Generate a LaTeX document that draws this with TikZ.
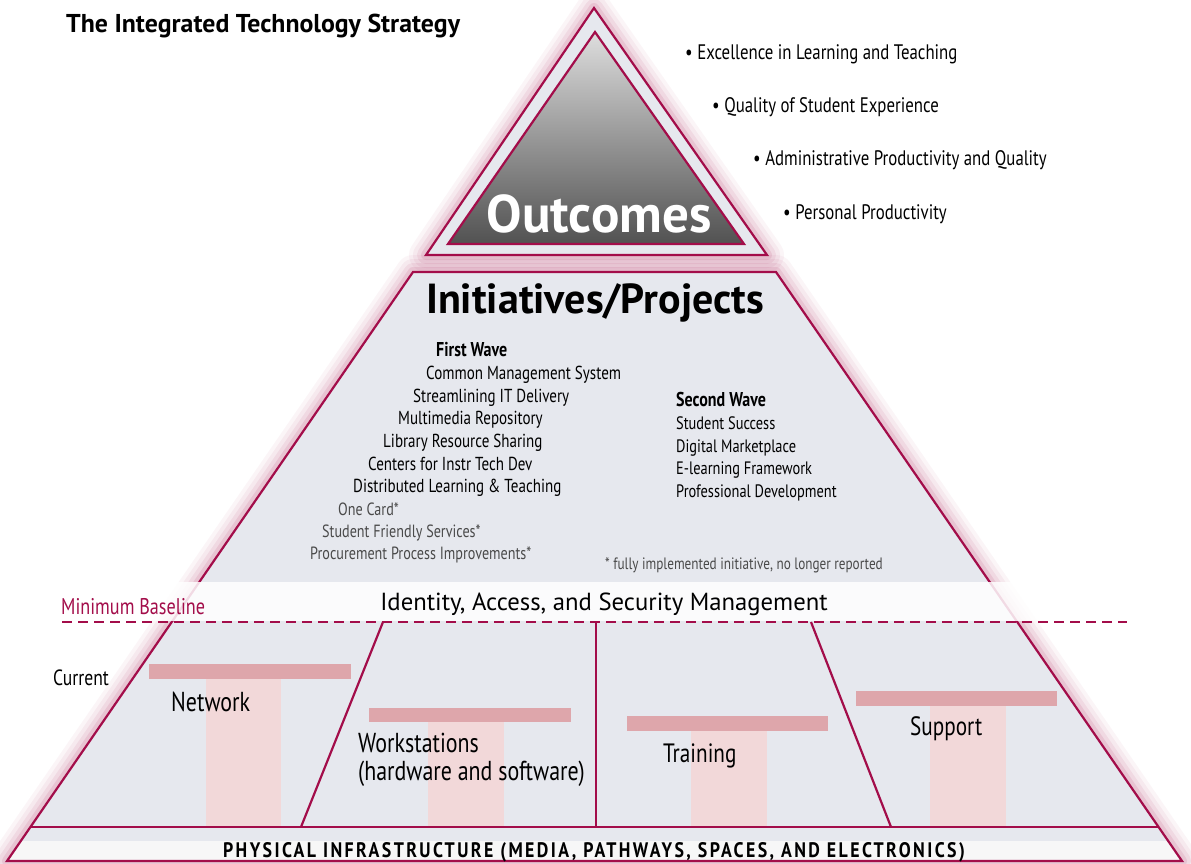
\documentclass[tikz,border=0pt]{standalone}
\usepackage{fontspec}
\setmainfont{PT Sans}
\newfontfamily\cond[FakeStretch=0.80]{PT Sans}
\newfontfamily\physfont[FakeStretch=0.85,LetterSpace=11.5]{PT Sans}
\definecolor{crim}{HTML}{A30D4A}
\definecolor{pgray}{HTML}{E6E8EE}
\definecolor{barpink}{HTML}{DEA6AB}
\definecolor{pilpink}{HTML}{F2D8D9}
\definecolor{txtgray}{HTML}{4A4A4A}
\tikzset{
  edge/.style={draw=crim, line width=2.2pt, line join=miter},
  body/.style={font=\cond\fontsize{18.8}{20}\selectfont, anchor=base west, inner sep=0pt, text=black},
  body2/.style={font=\cond\fontsize{18}{20}\selectfont, anchor=base west, inner sep=0pt, text=black},
  wavehead/.style={font=\cond\bfseries\fontsize{20}{22}\selectfont, anchor=base west, inner sep=0pt, text=black},
  done/.style={font=\cond\fontsize{17.7}{20}\selectfont, anchor=base west, inner sep=0pt, text=txtgray},
  pillarlbl/.style={font=\cond\fontsize{27.4}{30}\selectfont, anchor=base west, inner sep=0pt, text=black},
  bullet/.style={font=\cond\fontsize{21}{24}\selectfont, anchor=base west, inner sep=0pt, text=black},
  bar/.style={fill=barpink, draw=none},
  pillar/.style={fill=pilpink, draw=none},
}
\begin{document}
\begin{tikzpicture}[x=1pt,y=-1pt]
\useasboundingbox (0,0) rectangle (1191,863);
\fill[white] (0,0) rectangle (1191,863);

% coordinates
\coordinate (oA) at (594,8);
\coordinate (oL) at (426,255);
\coordinate (oR) at (767,255);
\coordinate (iA) at (595,32);
\coordinate (iL) at (448,244);
\coordinate (iR) at (744,244);
\coordinate (TL) at (413,272);
\coordinate (TR) at (776,272);
\coordinate (BR) at (1182,861);
\coordinate (BL) at (7,861);
\coordinate (ML) at (30.4,827);
\coordinate (MR) at (1158.6,827);
\coordinate (SL) at (20.8,841);
\coordinate (SR) at (1168.2,841);

% glows
\foreach \w/\o in {34/0.04,26/0.05,18/0.07,10/0.10}{
  \draw[crim, line width=\w pt, opacity=\o, line join=round] (oA) -- (oL) -- (oR) -- cycle;
  \draw[crim, line width=\w pt, opacity=\o, line join=round] (TL) -- (TR) -- (BR) -- (BL) -- cycle;
}

% top triangle
\fill[pgray] (oA) -- (oL) -- (oR) -- cycle;
\draw[edge] (oA) -- (oL) -- (oR) -- cycle;
\shade[top color=black!13, bottom color=black!68] (iA) -- (iL) -- (iR) -- cycle;
\draw[edge] (iA) -- (iL) -- (iR) -- cycle;
\node[font=\fontsize{53}{58}\selectfont\bfseries, text=white, anchor=base, inner sep=0pt] (outcomes) at (599,232) {Outcomes};

% main trapezoid
\fill[pgray] (TL) -- (TR) -- (BR) -- (BL) -- cycle;
\fill[white!97!black] (SL) -- (SR) -- (BR) -- (BL) -- cycle;

% pillars
\fill[pillar] (206,679) rectangle (281,827);
\fill[bar] (149,664) rectangle (351,679);
\fill[pillar] (428,722) rectangle (504,827);
\fill[bar] (369,708) rectangle (571,722);
\fill[pillar] (691,731) rectangle (767,827);
\fill[bar] (627,716) rectangle (828,731);
\fill[pillar] (930,706) rectangle (1006,827);
\fill[bar] (856,691) rectangle (1057,706);

% dividers
\coordinate (d1t) at (383,622); \coordinate (d1b) at (301,827);
\coordinate (d2t) at (596,622); \coordinate (d2b) at (596,827);
\coordinate (d3t) at (811,622); \coordinate (d3b) at (891,827);
\draw[edge] (d1t) -- (d1b);
\draw[edge] (d2t) -- (d2b);
\draw[edge] (d3t) -- (d3b);
\draw[edge] (ML) -- (MR);
\draw[edge] (TL) -- (TR) -- (BR) -- (BL) -- cycle;

% white band
\fill[white, opacity=0.85] (0,582) rectangle (1191,621);
\coordinate (dashL) at (62,622);
\coordinate (dashR) at (1127,622);
\draw[crim, line width=2.2pt, dash pattern=on 10pt off 6pt] (dashL) -- (dashR);

% texts
\node[font=\fontsize{25.8}{28}\selectfont\bfseries, anchor=base west, inner sep=0pt] (title) at (66,32) {The Integrated Technology Strategy};
\node[bullet] (b1) at (685,59) {\textbullet\ Excellence in Learning and Teaching};
\node[bullet] (b2) at (712,112) {\textbullet\ Quality of Student Experience};
\node[bullet] (b3) at (753,165) {\textbullet\ Administrative Productivity and Quality};
\node[bullet] (b4) at (783,219) {\textbullet\ Personal Productivity};

\node[font=\fontsize{42}{46}\selectfont\bfseries, anchor=base, inner sep=0pt] (init) at (595,313) {Initiatives/Projects};

\node[wavehead] (fw) at (436,356) {First Wave};
\node[body] (f1) at (426,379) {Common Management System};
\node[body] (f2) at (413,402) {Streamlining IT Delivery};
\node[body] (f3) at (398,424) {Multimedia Repository};
\node[body] (f4) at (383,447) {Library Resource Sharing};
\node[body] (f5) at (368,470) {Centers for Instr Tech Dev};
\node[body] (f6) at (353,492) {Distributed Learning \& Teaching};
\node[done] (f7) at (338,515) {One Card*};
\node[done] (f8) at (322,537) {Student Friendly Services*};
\node[done] (f9) at (310,559) {Procurement Process Improvements*};

\node[wavehead] (sw) at (676,406) {Second Wave};
\node[body2] (s1) at (676,429) {Student Success};
\node[body2] (s2) at (676,452) {Digital Marketplace};
\node[body2] (s3) at (676,474) {E-learning Framework};
\node[body2] (s4) at (676,497) {Professional Development};
\node[done, font=\cond\fontsize{16.5}{19}\selectfont] (note) at (605,569) {* fully implemented initiative, no longer reported};

\node[font=\fontsize{24.7}{28}\selectfont, anchor=base, inner sep=0pt] (iasm) at (604,610) {Identity, Access, and Security Management};
\node[font=\cond\fontsize{22.7}{26}\selectfont, text=crim, anchor=base west, inner sep=0pt] (minb) at (61,614) {Minimum Baseline};
\node[body, font=\cond\fontsize{22}{24}\selectfont] (cur) at (53,685) {Current};

\node[pillarlbl] (net) at (171,711) {Network};
\node[pillarlbl] (ws1) at (358,752) {Workstations};
\node[pillarlbl] (ws2) at (358,780) {(hardware and software)};
\node[pillarlbl, font=\cond\fontsize{26.5}{30}\selectfont] (trn) at (663,762) {Training};
\node[pillarlbl, font=\cond\fontsize{26.5}{30}\selectfont] (sup) at (910,735) {Support};

\node[font=\physfont\bfseries\fontsize{21}{24}\selectfont, anchor=base, inner sep=0pt] (phys) at (594,857) {PHYSICAL INFRASTRUCTURE (MEDIA, PATHWAYS, SPACES, AND ELECTRONICS)};
\end{tikzpicture}
\end{document}
